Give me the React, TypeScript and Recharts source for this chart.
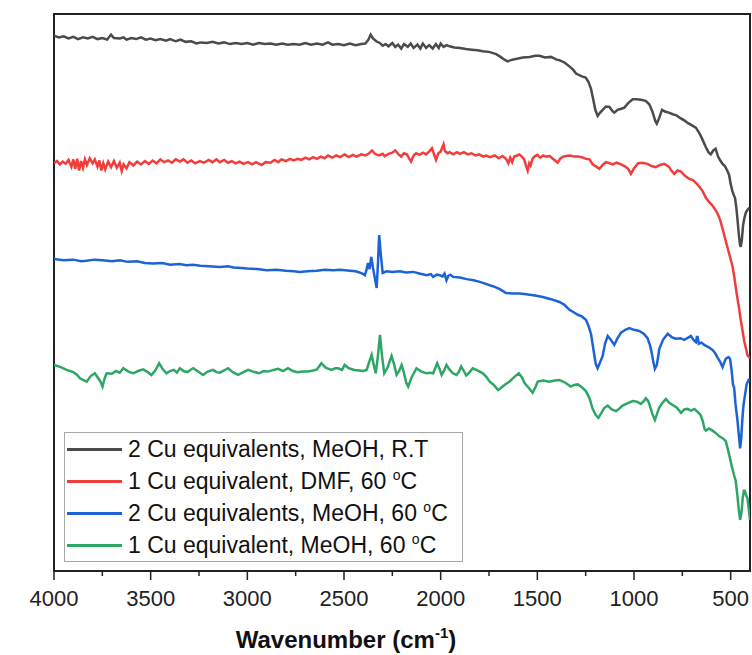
import { LineChart, Line, XAxis, YAxis, ReferenceArea, Legend } from 'recharts'

// wavenumber (cm-1), transmittance (arb., offset per trace)
const rtMeoh2Cu = [
  [4000, 96.1], [3975, 95.8], [3950, 96.0], [3925, 95.6], [3900, 95.9], [3875, 95.5], [3850, 95.8], [3825, 95.6],
  [3800, 95.9], [3775, 95.5], [3750, 95.7], [3725, 95.4], [3705, 96.3], [3690, 95.7], [3660, 95.6], [3640, 95.8],
  [3625, 95.4], [3600, 95.7], [3575, 95.5], [3550, 95.8], [3525, 95.4], [3500, 95.6], [3475, 95.3], [3450, 95.5],
  [3420, 95.2], [3400, 95.5], [3370, 95.1], [3345, 95.4], [3320, 95.0], [3290, 95.1], [3263, 94.7], [3240, 94.9],
  [3210, 94.8], [3180, 95.0], [3150, 94.7], [3120, 94.9], [3090, 94.6], [3060, 94.8], [3030, 94.6], [3000, 94.8],
  [2970, 94.5], [2940, 94.8], [2910, 94.6], [2880, 94.7], [2850, 94.5], [2820, 94.7], [2790, 94.5], [2760, 94.6],
  [2730, 94.5], [2700, 94.8], [2670, 94.5], [2640, 94.7], [2610, 94.5], [2583, 94.9], [2560, 94.5], [2530, 94.6],
  [2500, 94.4], [2470, 94.7], [2440, 94.4], [2411, 94.6], [2390, 94.7], [2375, 95.3], [2362, 96.3], [2350, 95.6],
  [2333, 95.1], [2315, 94.8], [2300, 94.3], [2285, 94.6], [2270, 94.2], [2250, 94.8], [2235, 94.1], [2220, 94.5],
  [2204, 93.8], [2190, 94.6], [2170, 94.1], [2155, 94.7], [2140, 93.9], [2120, 94.5], [2105, 93.8], [2092, 94.7],
  [2075, 93.9], [2060, 94.4], [2041, 93.8], [2025, 94.6], [2010, 93.9], [2000, 94.7], [1985, 94.1], [1970, 94.4],
  [1954, 94.2], [1930, 94.0], [1900, 93.9], [1870, 93.7], [1840, 93.6], [1810, 93.5], [1782, 93.3], [1750, 93.2],
  [1713, 92.8], [1690, 92.3], [1670, 91.8], [1653, 91.5], [1630, 91.8], [1600, 92.0], [1575, 92.2], [1540, 92.3],
  [1510, 92.5], [1489, 92.5], [1460, 92.2], [1430, 92.3], [1400, 91.8], [1386, 91.7], [1360, 91.3], [1334, 90.6],
  [1315, 90.0], [1300, 89.3], [1270, 88.8], [1250, 88.6], [1235, 87.8], [1222, 86.5], [1210, 84.5], [1200, 82.8],
  [1188, 81.7], [1175, 82.3], [1162, 82.8], [1145, 83.4], [1127, 83.3], [1110, 82.5], [1102, 82.3], [1085, 82.8],
  [1065, 83.0], [1050, 83.2], [1030, 84.0], [1007, 84.7], [985, 84.7], [964, 84.6], [940, 84.4], [921, 83.8],
  [905, 82.5], [890, 80.8], [882, 80.3], [870, 81.3], [855, 82.8], [840, 82.5], [820, 82.3], [800, 82.0],
  [780, 81.8], [760, 81.3], [740, 80.9], [720, 80.4], [700, 80.0], [680, 79.6], [660, 78.5], [645, 77.4],
  [630, 76.2], [615, 75.2], [603, 74.8], [590, 75.5], [578, 75.8], [565, 74.4], [552, 73.6], [542, 73.1],
  [530, 72.7], [518, 71.9], [508, 71.1], [500, 69.5], [491, 68.2], [484, 67.5], [477, 66.9], [470, 65.0],
  [465, 63.2], [458, 60.5], [452, 58.6], [448, 58.2], [442, 59.5], [436, 62.0], [430, 63.2], [422, 64.3],
  [412, 64.9], [404, 65.2]
]

const dmf1Cu = [
  [4000, 73.2], [3985, 73.6], [3970, 73.0], [3955, 73.5], [3940, 73.1], [3925, 73.8], [3910, 72.6], [3900, 73.9],
  [3890, 72.2], [3880, 74.0], [3870, 71.9], [3860, 73.6], [3850, 72.4], [3840, 73.9], [3830, 72.9], [3815, 74.1],
  [3800, 73.2], [3789, 73.9], [3775, 72.6], [3765, 73.7], [3755, 71.9], [3745, 73.2], [3735, 72.1], [3720, 73.5],
  [3705, 72.5], [3690, 73.6], [3675, 72.4], [3660, 73.3], [3650, 71.8], [3640, 73.0], [3625, 72.3], [3610, 73.4],
  [3590, 72.8], [3570, 73.5], [3550, 73.0], [3530, 73.6], [3510, 73.1], [3490, 73.7], [3470, 73.2], [3450, 73.9],
  [3430, 73.4], [3410, 73.7], [3390, 73.3], [3370, 73.9], [3349, 73.5], [3330, 73.9], [3310, 73.3], [3290, 73.7],
  [3270, 73.2], [3246, 73.6], [3225, 73.3], [3200, 73.8], [3180, 73.4], [3160, 73.9], [3142, 73.4], [3120, 73.8],
  [3100, 73.3], [3080, 73.6], [3060, 73.2], [3040, 73.5], [3020, 73.1], [2996, 73.4], [2975, 73.0], [2955, 73.4],
  [2927, 72.9], [2905, 73.4], [2880, 73.3], [2860, 73.8], [2840, 73.4], [2824, 73.9], [2800, 73.6], [2780, 74.0],
  [2760, 73.7], [2740, 74.0], [2720, 73.8], [2700, 74.2], [2680, 73.9], [2660, 74.3], [2640, 74.0], [2620, 74.4],
  [2600, 74.1], [2583, 74.6], [2560, 74.2], [2540, 74.6], [2520, 74.3], [2497, 74.8], [2475, 74.3], [2455, 74.7],
  [2435, 74.4], [2411, 74.8], [2390, 74.6], [2370, 75.0], [2355, 75.5], [2340, 74.9], [2320, 74.6], [2300, 74.9],
  [2290, 74.5], [2270, 74.9], [2250, 75.1], [2235, 75.5], [2220, 74.9], [2204, 74.4], [2190, 75.0], [2175, 74.8],
  [2160, 73.9], [2153, 73.5], [2140, 74.6], [2127, 75.0], [2110, 74.7], [2090, 75.1], [2075, 74.8], [2060, 75.3],
  [2045, 75.9], [2035, 74.9], [2024, 73.8], [2012, 75.0], [2000, 75.3], [1992, 76.0], [1985, 76.6], [1978, 75.4],
  [1965, 75.0], [1954, 75.2], [1935, 74.8], [1915, 75.2], [1900, 74.9], [1880, 75.2], [1860, 74.8], [1840, 75.0],
  [1820, 74.6], [1800, 74.8], [1780, 74.4], [1765, 74.6], [1745, 74.3], [1720, 74.6], [1700, 74.1], [1680, 74.5],
  [1660, 73.9], [1650, 73.2], [1640, 74.2], [1630, 73.4], [1620, 74.4], [1605, 74.6], [1593, 74.8], [1580, 74.4],
  [1568, 73.9], [1558, 72.7], [1550, 71.9], [1542, 73.2], [1535, 72.8], [1525, 74.0], [1515, 74.4], [1500, 74.7],
  [1485, 74.2], [1470, 74.6], [1455, 74.4], [1435, 74.5], [1420, 74.0], [1405, 73.6], [1395, 73.3], [1380, 74.1],
  [1365, 74.4], [1352, 74.5], [1330, 74.6], [1310, 74.4], [1291, 74.4], [1270, 74.3], [1249, 74.0], [1230, 73.9],
  [1214, 73.0], [1195, 72.6], [1179, 72.2], [1160, 73.0], [1145, 73.4], [1125, 73.2], [1110, 73.0], [1090, 73.3],
  [1067, 73.0], [1045, 72.6], [1030, 72.2], [1016, 71.3], [1000, 72.3], [978, 73.2], [955, 73.3], [930, 73.1],
  [910, 72.7], [887, 72.5], [865, 72.9], [843, 73.1], [820, 72.6], [805, 71.8], [792, 71.3], [775, 71.9],
  [757, 71.7], [735, 70.9], [714, 70.4], [695, 70.2], [680, 69.7], [660, 68.9], [645, 68.2], [628, 67.0],
  [611, 66.2], [596, 65.7], [582, 65.0], [568, 64.2], [554, 63.0], [540, 61.2], [525, 59.2], [508, 57.0],
  [491, 54.8], [480, 52.5], [468, 49.6], [458, 47.5], [448, 45.1], [438, 43.0], [430, 41.3], [420, 39.8],
  [413, 38.7], [400, 38.2]
]

const meoh2Cu60 = [
  [4000, 56.0], [3950, 55.8], [3900, 55.9], [3860, 55.6], [3831, 55.7], [3790, 55.9], [3750, 55.8], [3700, 55.6],
  [3659, 55.8], [3620, 55.5], [3570, 55.6], [3530, 55.3], [3487, 55.2], [3440, 55.3], [3400, 55.0], [3350, 55.1],
  [3315, 54.9], [3280, 55.0], [3244, 54.8], [3200, 54.7], [3142, 54.6], [3100, 54.7], [3072, 54.5], [3030, 54.4],
  [3000, 54.3], [2950, 54.2], [2900, 54.0], [2850, 54.1], [2800, 53.9], [2760, 53.8], [2728, 53.7], [2690, 53.8],
  [2641, 53.9], [2600, 54.1], [2555, 54.0], [2520, 54.1], [2469, 53.9], [2440, 53.8], [2420, 53.6], [2400, 53.3],
  [2392, 53.1], [2384, 54.0], [2376, 55.3], [2368, 54.2], [2359, 56.4], [2350, 54.4], [2340, 52.5], [2331, 50.8],
  [2324, 55.5], [2318, 60.3], [2310, 57.0], [2300, 53.5], [2280, 53.8], [2250, 53.7], [2211, 53.8], [2180, 53.6],
  [2142, 53.7], [2110, 53.4], [2073, 53.1], [2050, 53.3], [2039, 52.8], [2020, 53.2], [2004, 53.1], [1990, 52.9],
  [1980, 53.4], [1970, 52.2], [1960, 53.0], [1950, 53.2], [1935, 52.8], [1900, 52.7], [1866, 52.4], [1830, 52.2],
  [1798, 51.9], [1770, 51.6], [1746, 51.3], [1720, 51.0], [1694, 50.6], [1662, 49.9], [1620, 49.8], [1590, 49.8],
  [1558, 49.7], [1520, 49.5], [1472, 49.2], [1430, 48.8], [1386, 48.3], [1360, 47.8], [1334, 46.9], [1310, 46.4],
  [1291, 46.0], [1270, 45.7], [1249, 45.1], [1235, 44.0], [1222, 42.5], [1210, 39.8], [1198, 37.2], [1188, 36.4],
  [1175, 37.5], [1162, 38.6], [1150, 40.8], [1136, 42.2], [1120, 41.5], [1102, 40.6], [1085, 41.8], [1067, 42.8],
  [1045, 43.3], [1024, 43.6], [1000, 43.3], [973, 43.1], [950, 42.6], [930, 41.8], [918, 40.6], [909, 39.3],
  [900, 37.5], [892, 36.3], [882, 37.0], [875, 38.5], [869, 39.9], [850, 41.5], [826, 42.6], [805, 42.0],
  [784, 41.7], [760, 41.8], [740, 41.5], [720, 41.9], [706, 42.2], [690, 41.4], [680, 41.1], [675, 42.0],
  [671, 42.0], [665, 40.8], [660, 40.9], [650, 41.0], [637, 40.6], [615, 40.2], [594, 39.7], [580, 39.1],
  [568, 38.3], [555, 37.6], [542, 36.6], [533, 37.5], [525, 38.1], [512, 38.4], [503, 38.1], [495, 36.0],
  [488, 33.5], [482, 32.9], [475, 30.0], [465, 27.1], [458, 24.5], [451, 22.0], [445, 24.0], [440, 27.0],
  [434, 29.7], [425, 31.8], [417, 33.6], [404, 34.5]
]

const meoh1Cu60 = [
  [4000, 37.0], [3965, 36.6], [3935, 36.1], [3900, 35.7], [3880, 35.2], [3866, 34.6], [3850, 34.3], [3831, 34.0],
  [3810, 35.0], [3789, 35.5], [3771, 34.6], [3760, 34.0], [3749, 33.1], [3738, 34.6], [3728, 35.5], [3700, 35.4],
  [3680, 35.9], [3660, 35.6], [3642, 36.4], [3615, 35.8], [3590, 35.5], [3565, 35.9], [3539, 36.2], [3515, 35.7],
  [3496, 35.2], [3476, 36.0], [3456, 37.3], [3437, 36.2], [3418, 35.5], [3400, 35.9], [3380, 36.1], [3365, 35.6],
  [3349, 36.4], [3330, 35.9], [3310, 35.7], [3295, 36.1], [3280, 36.4], [3255, 35.8], [3229, 35.2], [3205, 35.8],
  [3177, 36.1], [3160, 35.7], [3142, 35.6], [3120, 36.0], [3100, 36.4], [3075, 35.7], [3048, 35.2], [3020, 35.7],
  [2996, 36.1], [2970, 35.8], [2940, 35.5], [2915, 35.9], [2893, 35.8], [2865, 36.1], [2840, 36.3], [2815, 35.9],
  [2790, 36.4], [2765, 35.9], [2740, 35.7], [2715, 35.8], [2686, 35.8], [2660, 36.0], [2640, 36.2], [2617, 37.3],
  [2595, 36.5], [2566, 36.1], [2545, 36.4], [2530, 36.4], [2510, 36.1], [2497, 37.0], [2475, 36.4], [2445, 36.1],
  [2420, 36.0], [2400, 35.9], [2383, 36.1], [2370, 37.5], [2357, 38.8], [2346, 37.0], [2336, 35.5], [2325, 38.5],
  [2314, 42.4], [2303, 38.5], [2292, 35.5], [2275, 36.5], [2262, 37.8], [2254, 38.6], [2240, 37.0], [2228, 35.2],
  [2215, 35.9], [2202, 37.0], [2190, 35.6], [2178, 33.8], [2168, 33.1], [2150, 34.8], [2125, 36.4], [2100, 35.8],
  [2075, 35.5], [2055, 35.6], [2039, 35.5], [2018, 37.3], [2005, 36.2], [1995, 35.2], [1982, 36.0], [1970, 37.0],
  [1955, 36.2], [1937, 35.5], [1918, 35.2], [1905, 35.8], [1894, 36.7], [1880, 35.9], [1868, 35.1], [1850, 35.7],
  [1834, 36.4], [1810, 36.0], [1782, 35.5], [1765, 34.9], [1746, 34.0], [1725, 33.4], [1703, 32.5], [1690, 32.8],
  [1670, 33.4], [1644, 34.0], [1620, 34.8], [1596, 35.5], [1580, 34.8], [1567, 33.8], [1545, 32.9], [1524, 32.0],
  [1510, 33.0], [1498, 34.0], [1470, 34.2], [1438, 34.0], [1410, 34.2], [1386, 34.3], [1355, 33.8], [1327, 33.1],
  [1310, 33.4], [1291, 33.5], [1270, 33.0], [1249, 32.3], [1230, 31.0], [1214, 29.1], [1198, 28.0], [1184, 27.5],
  [1170, 28.3], [1155, 29.2], [1136, 29.7], [1115, 29.0], [1093, 28.7], [1075, 29.2], [1059, 29.7], [1035, 30.1],
  [1007, 30.5], [985, 30.4], [964, 30.0], [950, 30.5], [938, 31.0], [925, 30.4], [916, 29.4], [905, 28.2],
  [892, 27.1], [880, 28.3], [869, 29.4], [852, 30.2], [835, 30.9], [818, 30.2], [800, 29.8], [778, 29.3],
  [757, 28.4], [740, 29.0], [723, 29.1], [705, 28.8], [688, 29.1], [672, 28.6], [657, 28.1], [645, 27.0],
  [635, 25.5], [628, 25.2], [612, 25.6], [594, 25.2], [578, 24.8], [559, 24.2], [540, 23.8], [525, 23.3],
  [510, 21.2], [496, 19.1], [485, 17.5], [474, 16.2], [465, 13.5], [458, 11.0], [451, 9.2], [444, 10.5],
  [438, 13.0], [432, 14.4], [427, 14.4], [420, 13.6], [413, 13.0], [406, 11.0], [400, 9.2]
]

const seriesNames = [
  '2 Cu equivalents, MeOH, R.T',
  '1 Cu equivalent, DMF, 60 ',
  '2 Cu equivalents, MeOH, 60 ',
  '1 Cu equivalent, MeOH, 60 '
]
const seriesDegree = [false, true, true, true]
const seriesColors = ['#4b4b4b', '#f23d3d', '#1c63d6', '#2ea665']
const seriesPoints = [rtMeoh2Cu, dmf1Cu, meoh2Cu60, meoh1Cu60]

const xTicks = [4000, 3750, 3500, 3250, 3000, 2750, 2500, 2250, 2000, 1750, 1500, 1250, 1000, 750, 500]

const font = "'Liberation Sans', Arial, sans-serif"

const toRows = (pts: number[][]) => pts.map(([w, t]) => ({ w, t }))

const WaveTick = (props: any) => {
  const { x, y, payload } = props
  const major = payload.value % 500 === 0
  return (
    <g>
      <line x1={x} x2={x} y1={y} y2={y + (major ? 9 : 5)} stroke='#222' strokeWidth={1.5} />
      {major && (
        <text x={x} y={y + 35} textAnchor='middle' fontSize={22} fontFamily={font} fill='#222'>
          {payload.value}
        </text>
      )}
    </g>
  )
}

const XTitle = () => (
  <text x={346} y={648} textAnchor='middle' fontSize={24} fontWeight='bold' fontFamily={font} fill='#111'>
    Wavenumber (cm
    <tspan fontSize={15} dy={-10}>-1</tspan>
    <tspan dy={10}>)</tspan>
  </text>
)

const YTitle = () => (
  <text
    x={31}
    y={289}
    transform='rotate(-90 31 289)'
    textAnchor='middle'
    fontSize={22}
    fontWeight='bold'
    fontFamily={font}
    fill='#111'
  >
    Transmittance (Arb.)
  </text>
)

const LegendBox = () => (
  <div
    style={{
      boxSizing: 'border-box',
      width: 399,
      height: 130,
      border: '1px solid #a8a8a8',
      background: '#fff',
      fontFamily: font,
      fontSize: 23,
      color: '#111'
    }}
  >
    {seriesNames.map((name, i) => (
      <div key={name} style={{ display: 'flex', alignItems: 'center', height: 32, whiteSpace: 'nowrap' }}>
        <span style={{ display: 'inline-block', width: 55, height: 3, marginLeft: 2, marginRight: 6, background: seriesColors[i] }} />
        <span>
          {name}
          {seriesDegree[i] && (
            <>
              <sup style={{ fontSize: 14 }}>o</sup>C
            </>
          )}
        </span>
      </div>
    ))}
  </div>
)

export default function App() {
  return (
    <div style={{ position: 'absolute', left: 0, top: 0, background: '#fff' }}>
      <LineChart width={752} height={655} margin={{ top: 14, right: 2, left: 54, bottom: 0 }}>
        <XAxis
          dataKey='w'
          type='number'
          domain={[400, 4000]}
          reversed
          allowDataOverflow
          ticks={xTicks}
          interval={0}
          height={84}
          tick={<WaveTick />}
          tickLine={false}
          tickSize={0}
          tickMargin={0}
          axisLine={{ stroke: '#222', strokeWidth: 2 }}
          label={{ content: <XTitle /> }}
        />
        <YAxis
          type='number'
          domain={[0, 100]}
          allowDataOverflow
          width={0}
          tick={false}
          tickLine={false}
          axisLine={false}
          label={{ content: <YTitle /> }}
        />
        <ReferenceArea x1={4000} x2={400} y1={0} y2={100} fill='none' stroke='#222' strokeWidth={2} ifOverflow='visible' />
        {seriesPoints.map((pts, i) => (
          <Line
            key={seriesNames[i]}
            data={toRows(pts)}
            dataKey='t'
            name={seriesNames[i]}
            type='linear'
            stroke={seriesColors[i]}
            strokeWidth={2.5}
            dot={false}
            activeDot={false}
            isAnimationActive={false}
          />
        ))}
        <Legend
          layout='vertical'
          align='center'
          verticalAlign='middle'
          content={<LegendBox />}
          wrapperStyle={{ left: 64, top: 432, width: 399, height: 130 }}
        />
      </LineChart>
    </div>
  )
}
